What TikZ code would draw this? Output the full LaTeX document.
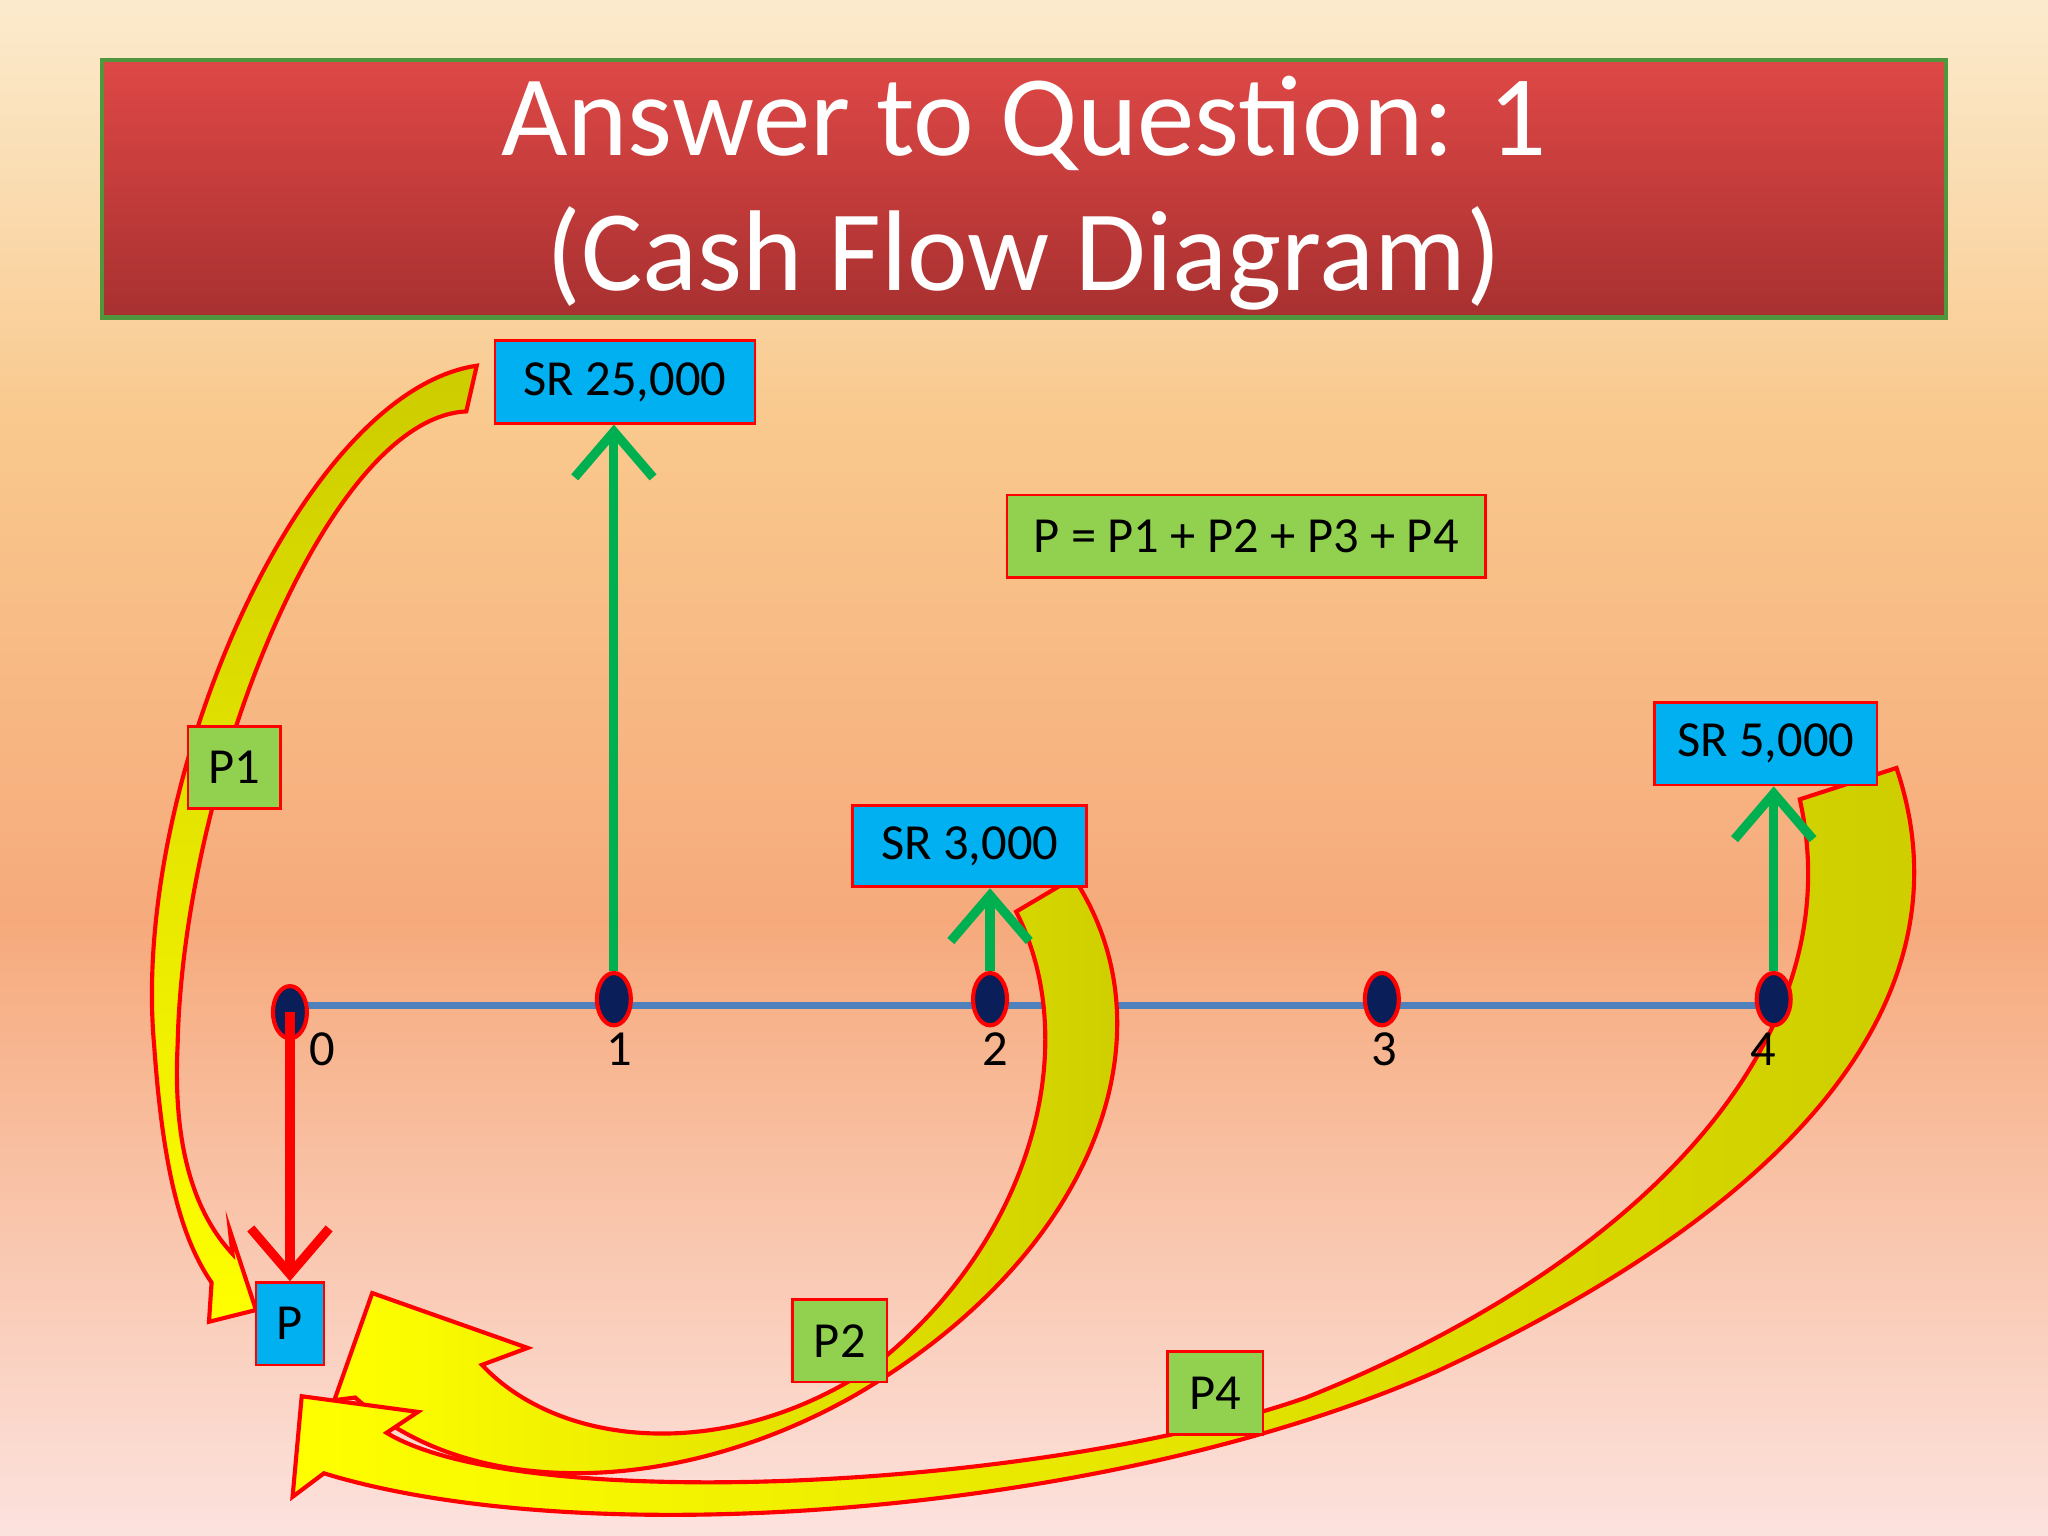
\documentclass[tikz,border=0pt]{standalone}
\usepackage{fontspec}
\setmainfont{Carlito}
\usetikzlibrary{shapes.geometric,arrows.meta}
\definecolor{cpink}{RGB}{252,226,222}
\definecolor{corange}{RGB}{246,170,124}
\definecolor{cyel}{RGB}{249,200,140}
\definecolor{clight}{RGB}{251,235,205}
\definecolor{ttop}{RGB}{222,72,70}
\definecolor{tbot}{RGB}{168,48,48}
\definecolor{tgreen}{RGB}{80,150,60}
\definecolor{cyanbox}{RGB}{0,176,240}
\definecolor{greenbox}{RGB}{146,208,80}
\definecolor{arrgreen}{RGB}{0,176,80}
\definecolor{axisblue}{RGB}{79,129,189}
\definecolor{navy}{RGB}{10,30,90}
\definecolor{oliv}{RGB}{204,204,0}
\pgfdeclareverticalshading{bgshade}{100bp}{color(0bp)=(cpink); color(25bp)=(cpink); color(45bp)=(corange); color(61bp)=(cyel); color(75bp)=(clight); color(100bp)=(clight)}
\tikzset{
  cbox/.style={draw=red, line width=0.6pt, fill=cyanbox, inner sep=0pt, font=\fontsize{11}{13}\selectfont, text=black},
  gbox/.style={draw=red, line width=0.6pt, fill=greenbox, inner sep=0pt, font=\fontsize{11}{13}\selectfont, text=black},
  dot/.style={ellipse, draw=red, line width=0.9pt, fill=navy, minimum width=0.26cm, minimum height=0.40cm, inner sep=0pt},
  tick/.style={font=\fontsize{11}{13}\selectfont},
  garrow/.style={draw=arrgreen, line width=2pt, -{Straight Barb[length=3.5mm,width=6mm,line width=2pt]}},
  curvarr/.style={draw=red, line width=0.9pt}
}
\begin{document}
\begin{tikzpicture}[x=0.01cm,y=-0.01cm]
\useasboundingbox (0,0) rectangle (1568,1176);
\shade[shading=bgshade] (0,0) rectangle (1568,1176);
% title
\shade[top color=ttop, bottom color=tbot, draw=tgreen, line width=1pt] (78,46) rectangle (1490,243);
\node[text=white, align=center, font=\fontsize{25}{29.5}\selectfont] (title) at (784,148) {Answer to Question: 1\\(Cash Flow Diagram)};
% axis
\coordinate (a0) at (222,770);
\coordinate (a4) at (1358,770);
\draw[axisblue, line width=1.5pt] (a0) -- (a4);
% curved arrows
\shade[curvarr, top color=oliv, bottom color=yellow]
 (365,280) .. controls (230,300) and (100,600) .. (118,800)
 .. controls (125,900) and (140,950) .. (162,982) -- (160,1012) -- (196,1003) -- (176,942) -- (178,960)
 .. controls (150,930) and (132,880) .. (136,800)
 .. controls (140,600) and (250,320) .. (357,315) -- cycle;
\shade[curvarr, left color=yellow, right color=oliv]
 (822,672) .. controls (900,790) and (840,960) .. (655,1068)
 .. controls (520,1145) and (360,1150) .. (272,1070) -- (256,1072) -- (285,990) -- (404,1032) -- (369,1045)
 .. controls (430,1110) and (560,1120) .. (670,1045)
 .. controls (790,950) and (830,800) .. (778,698) -- cycle;
\shade[curvarr, left color=yellow, right color=oliv]
 (1452,588) .. controls (1510,760) and (1380,920) .. (1100,1050)
 .. controls (850,1160) and (450,1190) .. (248,1128) -- (224,1146) -- (231,1069) -- (320,1081) -- (296,1097)
 .. controls (400,1160) and (800,1140) .. (1000,1070)
 .. controls (1250,970) and (1420,800) .. (1378,612) -- cycle;
% boxes
\node[cbox, minimum width=1.99cm, minimum height=0.63cm] (s25) at (478.5,292.5) {SR 25,000};
\node[cbox, minimum width=1.79cm, minimum height=0.62cm] (s3) at (742.5,648) {SR 3,000};
\node[cbox, minimum width=1.70cm, minimum height=0.63cm] (s5) at (1352,569.5) {SR 5,000};
\node[cbox, minimum width=0.52cm, minimum height=0.63cm] (p) at (222,1013.5) {P};
\node[gbox, minimum width=3.66cm, minimum height=0.63cm] (eq) at (954,410.5) {P = P1 + P2 + P3 + P4};
\node[gbox, minimum width=0.71cm, minimum height=0.63cm] (p1) at (179.5,587.5) {P1};
\node[gbox, minimum width=0.72cm, minimum height=0.63cm] (p2) at (643,1026.5) {P2};
\node[gbox, minimum width=0.73cm, minimum height=0.63cm] (p4) at (930.5,1066.5) {P4};
% dots
\node[dot] (d0) at (222,775) {};
\node[dot] (d1) at (470,765) {};
\node[dot] (d2) at (758,765) {};
\node[dot] (d3) at (1058,765) {};
\node[dot] (d4) at (1358,765) {};
\node[tick] (t0) at (247,803) {0};
\node[tick] (t1) at (474,803) {1};
\node[tick] (t2) at (762,803) {2};
\node[tick] (t3) at (1060,803) {3};
\node[tick] (t4) at (1350,803) {4};
% cash arrows
\draw[garrow] (d1.north) -- (s25.south -| d1);
\draw[garrow] (d2.north) -- (s3.south -| d2);
\draw[garrow] (d4.north) -- (s5.south -| d4);
\draw[draw=red, line width=2pt, -{Straight Barb[length=3.5mm,width=6mm,line width=2pt]}] (d0.center) -- (p.north);
\end{tikzpicture}
\end{document}
